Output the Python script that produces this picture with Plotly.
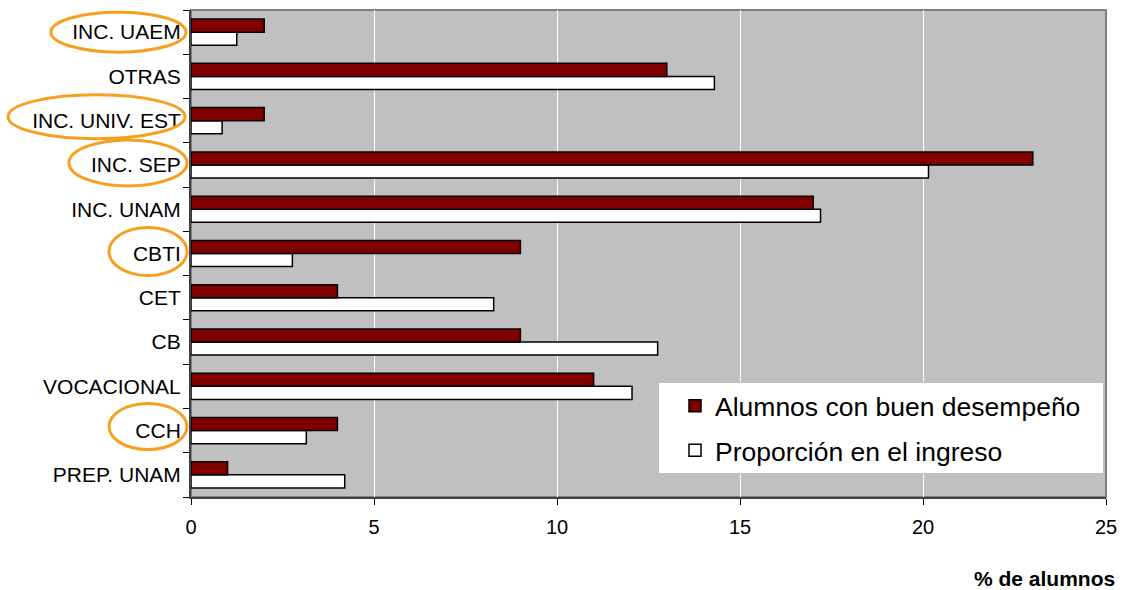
import plotly.graph_objects as go

# ---- data ----
categories = ["PREP. UNAM", "CCH", "VOCACIONAL", "CB", "CET", "CBTI",
              "INC. UNAM", "INC. SEP", "INC. UNIV. EST", "OTRAS", "INC. UAEM"]
buen_desempeno = [1, 4, 11, 9, 4, 9, 17, 23, 2, 13, 2]
proporcion_ingreso = [4.2, 3.15, 12.05, 12.75, 8.27, 2.77, 17.2, 20.15, 0.85, 14.3, 1.25]
series_names = ["Alumnos con buen desempeño", "Proporción en el ingreso"]
x_ticks = [0, 5, 10, 15, 20, 25]
x_title = "% de alumnos"

# highlighted labels (orange ellipses): label, left/right page px, bottom/top px offset from category centre
highlighted = [
    ("INC. UAEM", 51, 186, -20, 20),
    ("INC. UNIV. EST", 8, 185, -18, 26),
    ("INC. SEP", 69, 187, -21, 25),
    ("CBTI", 109, 187, -22, 26),
    ("CCH", 109, 187, -19, 27),
]

FONT = "Liberation Sans, Arial, sans-serif"
PL, PR = 191, 1106  # plot left/right in page px


def px_to_paper_x(p):
    return (p - PL) / (PR - PL)


def py_to_paper_y(p):
    return (497 - p) / 487


fig = go.Figure()
fig.add_trace(go.Bar(
    y=categories, x=proporcion_ingreso, orientation="h", name=series_names[1],
    marker=dict(color="#FFFFFF", line=dict(color="#000000", width=1.5)),
    legendgroup="b", legendrank=2,
))
fig.add_trace(go.Bar(
    y=categories, x=buen_desempeno, orientation="h", name=series_names[0],
    marker=dict(color="#800000", line=dict(color="#000000", width=1.5)),
    legendgroup="a", legendrank=1,
))

shapes = []
# legend white box
shapes.append(dict(type="rect", xref="paper", yref="paper",
                   x0=px_to_paper_x(659), x1=px_to_paper_x(1103),
                   y0=py_to_paper_y(473), y1=py_to_paper_y(383),
                   fillcolor="#FFFFFF", line=dict(width=0), layer="above"))
# plot border
shapes.append(dict(type="rect", xref="paper", yref="paper", x0=0, x1=1, y0=0, y1=1,
                   line=dict(color="#808080", width=2), layer="below"))
for lab, xl, xr, yb, yt in highlighted:
    shapes.append(dict(type="circle", xref="paper", yref="y",
                       ysizemode="pixel", yanchor=lab,
                       x0=px_to_paper_x(xl), x1=px_to_paper_x(xr), y0=yb, y1=yt,
                       line=dict(color="#F5A01E", width=3), layer="above"))

fig.update_layout(
    width=1123, height=590,
    margin=dict(l=191, r=17, t=10, b=93, autoexpand=False),
    paper_bgcolor="#FFFFFF", plot_bgcolor="#C0C0C0",
    barmode="group", bargap=0.41, bargroupgap=0,
    font=dict(family=FONT, color="#000000", size=20),
    showlegend=True,
    legend=dict(x=px_to_paper_x(675), y=py_to_paper_y(382), xanchor="left", yanchor="top",
                bgcolor="rgba(0,0,0,0)", font=dict(size=26.5, family=FONT, color="#000000"),
                traceorder="grouped", tracegroupgap=7, itemwidth=30),
    shapes=shapes,
    annotations=[dict(text="<b>" + x_title + "</b>", xref="paper", yref="paper",
                      x=px_to_paper_x(1117), y=py_to_paper_y(578), xanchor="right", yanchor="middle",
                      showarrow=False,
                      font=dict(size=21, family=FONT, color="#000000"))],
)
fig.update_xaxes(range=[0, 25], tickvals=x_ticks, showgrid=True, gridcolor="#FFFFFF", gridwidth=1,
                 zeroline=False, showline=True, linecolor="#404040", linewidth=2,
                 ticks="outside", ticklen=6, tickcolor="#000000", tickwidth=1, automargin=False,
                 ticklabelstandoff=5, ticklabeloverflow="allow", tickfont=dict(size=20))
fig.update_yaxes(categoryorder="array", categoryarray=categories, range=[-0.5, len(categories) - 0.5],
                 showgrid=False, zeroline=False, showline=True, linecolor="#404040", linewidth=2,
                 ticks="outside", ticklen=6, tickcolor="#000000", tickson="boundaries", automargin=False,
                 ticklabelstandoff=4, tickfont=dict(size=21))

# remove the default 8px page margin so the figure fills the window exactly
fig.write_html("out.html", config={"displayModeBar": False},
               post_script="document.body.style.margin='0';document.body.style.overflow='hidden';")
